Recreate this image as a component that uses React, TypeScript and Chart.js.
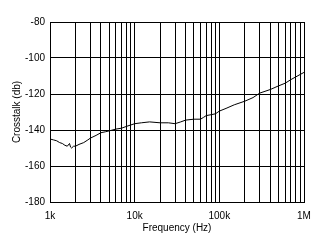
import React, { useEffect, useRef } from "react";
import { Chart, registerables } from "chart.js";

Chart.register(...registerables);

const freqs = [
  1000, 1100, 1200, 1300, 1400, 1500, 1600, 1700, 1750, 1800, 1900, 2000, 2200, 2500, 2800, 3000,
  3500, 4000, 4500, 5000, 6000, 7000, 8000, 10000, 12000, 15000, 20000, 25000, 30000, 35000,
  40000, 50000, 60000, 65000, 70000, 80000, 90000, 100000, 120000, 150000, 200000, 250000,
  300000, 400000, 500000, 600000, 700000, 800000, 1000000,
];
const crosstalk = [
  -145, -145.5, -146, -147, -147.5, -148.5, -149, -147.5, -149.5, -150, -149, -149, -148, -147,
  -145.5, -144.5, -143, -141.5, -141, -140.5, -139.5, -139, -138, -136.5, -136, -135.5, -136,
  -136, -136.5, -135.5, -134.5, -134, -134, -133, -132, -131.5, -131, -129.5, -128, -126, -124,
  -122, -119.5, -117.5, -115.5, -114, -112, -110.5, -108,
];
const xTickValues = [
  1000, 2000, 3000, 4000, 5000, 6000, 7000, 8000, 9000,
  10000, 20000, 30000, 40000, 50000, 60000, 70000, 80000, 90000,
  100000, 200000, 300000, 400000, 500000, 600000, 700000, 800000, 900000, 1000000,
];
const xTickLabels: Record<number, string> = { 1000: "1k", 10000: "10k", 100000: "100k", 1000000: "1M" };
const yTickValues = [-180, -160, -140, -120, -100, -80];

export default function App() {
  const ref = useRef<HTMLCanvasElement>(null);
  useEffect(() => {
    document.body.style.margin = "0";
    const font = { family: "Liberation Sans, Arial, sans-serif", size: 10 };
    const chart = new Chart(ref.current!, {
      type: "line",
      data: {
        datasets: [
          {
            data: freqs.map((f, i) => ({ x: f, y: crosstalk[i] })),
            borderColor: "#000",
            borderWidth: 1,
            pointRadius: 0,
            tension: 0,
          },
        ],
      },
      options: {
        animation: false,
        responsive: false,
        layout: { padding: { top: 22, right: 16, left: 0, bottom: 0 } },
        plugins: { legend: { display: false }, tooltip: { enabled: false } },
        scales: {
          x: {
            type: "logarithmic",
            min: 1000,
            max: 1000000,
            afterBuildTicks: (s: any) => {
              s.ticks = xTickValues.map((v) => ({ value: v }));
            },
            afterFit: (s: any) => {
              s.height = 41;
            },
            ticks: {
              autoSkip: false,
              maxRotation: 0,
              color: "#000",
              font,
              padding: 8,
              callback: (v: any) => xTickLabels[v as number] ?? "",
            },
            grid: { color: "#000", lineWidth: 1, drawTicks: false },
            border: { color: "#000", width: 1 },
            title: { display: true, text: "Frequency (Hz)", color: "#000", font, padding: { top: 2, bottom: 9 } },
          },
          y: {
            min: -180,
            max: -80,
            afterBuildTicks: (s: any) => {
              s.ticks = yTickValues.map((v) => ({ value: v }));
            },
            afterFit: (s: any) => {
              s.width = 50;
            },
            ticks: { color: "#000", font, padding: 5 },
            grid: { color: "#000", lineWidth: 1, drawTicks: false },
            border: { color: "#000", width: 1 },
            title: { display: true, text: "Crosstalk (db)", color: "#000", font, padding: { top: 11, bottom: 0 } },
          },
        },
      },
    });
    return () => chart.destroy();
  }, []);
  return (
    <div style={{ position: "absolute", left: 0, top: 0, width: 320, height: 243, background: "#fff" }}>
      <canvas ref={ref} width={320} height={243} />
    </div>
  );
}
